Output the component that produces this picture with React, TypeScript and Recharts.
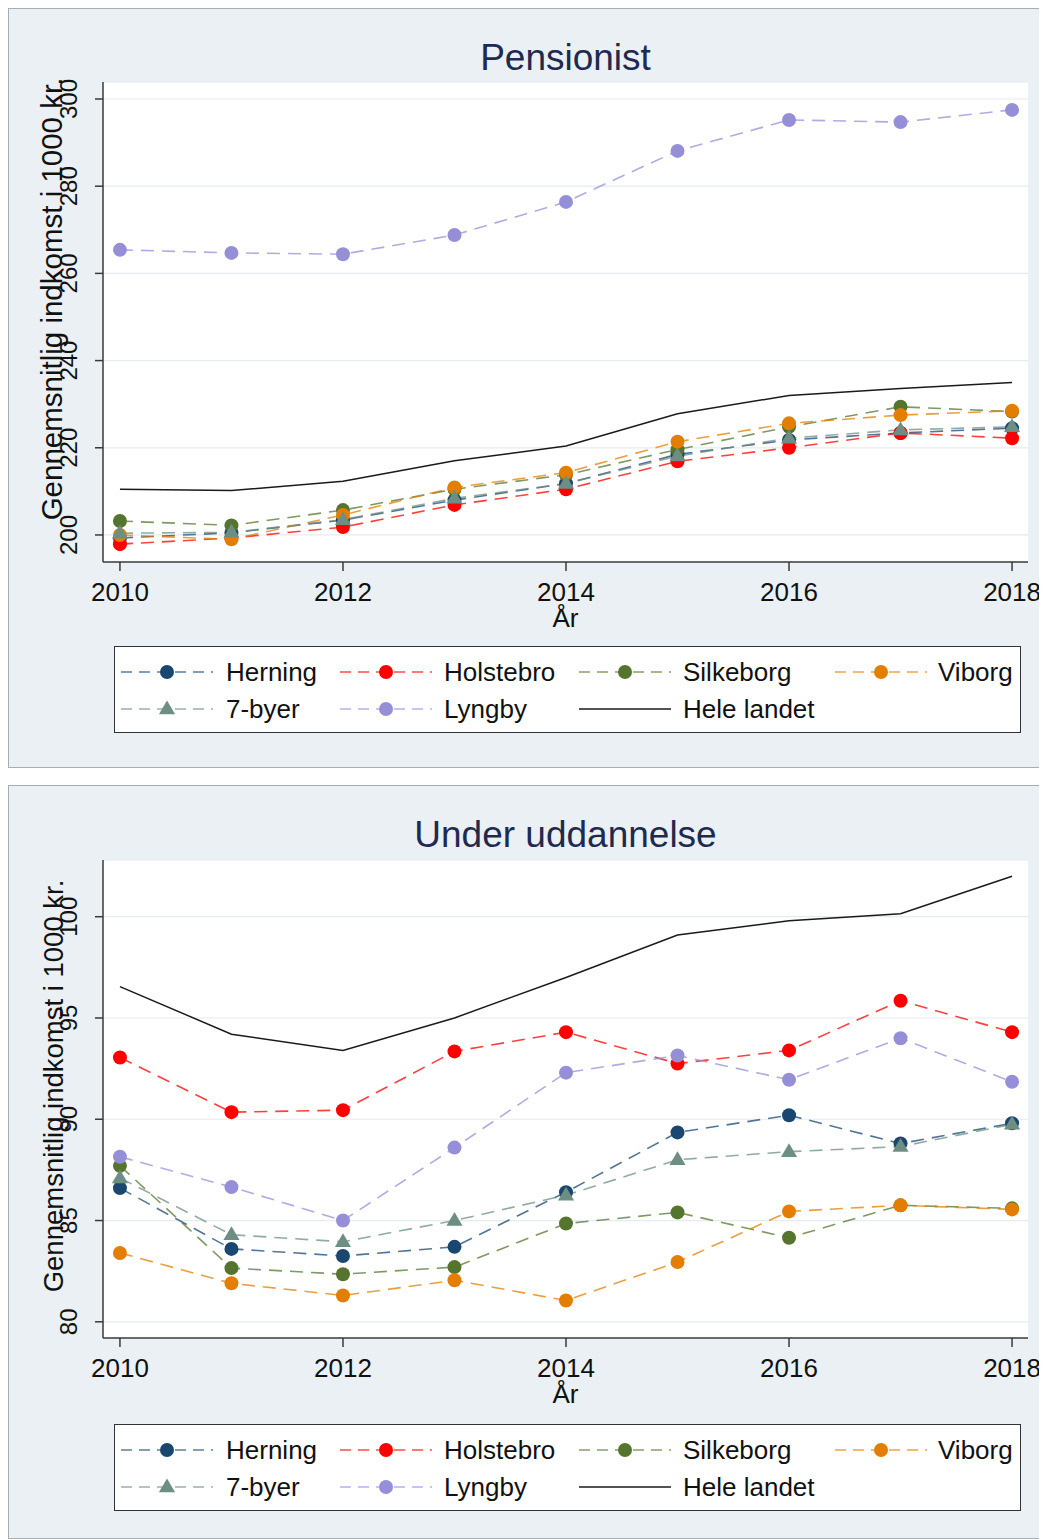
import React from 'react';
import { LineChart, Line, XAxis, YAxis, CartesianGrid, Label } from 'recharts';

const FONT = '"Liberation Sans", Arial, Helvetica, sans-serif';

const years = [2010, 2011, 2012, 2013, 2014, 2015, 2016, 2017, 2018];
const xTicks = [2010, 2012, 2014, 2016, 2018];

// Pensionist
const herningP = [199.3, 200.5, 203.4, 208.0, 211.8, 218.5, 221.8, 223.4, 224.5];
const holstebroP = [197.9, 199.3, 201.8, 206.9, 210.5, 216.9, 220.0, 223.4, 222.2];
const silkeborgP = [203.2, 202.2, 205.7, 210.5, 213.8, 219.6, 224.8, 229.4, 228.3];
const viborgP = [200.0, 199.0, 204.6, 210.9, 214.3, 221.4, 225.6, 227.5, 228.5];
const byer7P = [200.4, 200.6, 203.5, 208.4, 211.8, 218.1, 222.2, 224.1, 224.8];
const lyngbyP = [265.4, 264.7, 264.4, 268.8, 276.4, 288.1, 295.2, 294.7, 297.5];
const heleP = [210.5, 210.2, 212.3, 217.0, 220.4, 227.8, 232.0, 233.6, 235.0];
const yTicksP = [200, 220, 240, 260, 280, 300];

// Under uddannelse
const herningU = [86.6, 83.6, 83.25, 83.7, 86.4, 89.35, 90.2, 88.8, 89.8];
const holstebroU = [93.05, 90.35, 90.45, 93.35, 94.3, 92.75, 93.4, 95.85, 94.3];
const silkeborgU = [87.7, 82.65, 82.35, 82.7, 84.85, 85.4, 84.15, 85.75, 85.6];
const viborgU = [83.4, 81.9, 81.3, 82.05, 81.05, 82.95, 85.45, 85.75, 85.55];
const byer7U = [87.1, 84.3, 83.95, 85.0, 86.25, 88.0, 88.4, 88.65, 89.75];
const lyngbyU = [88.15, 86.65, 85.0, 88.6, 92.3, 93.15, 91.95, 94.0, 91.85];
const heleU = [96.55, 94.2, 93.4, 95.0, 97.0, 99.1, 99.8, 100.15, 102.0];
const yTicksU = [80, 85, 90, 95, 100];

const yLabel = 'Gennemsnitlig indkomst i 1000 kr.';
const xLabel = 'År';

type Series = { key: string; name: string; color: string; marker: 'circle' | 'triangle' | 'none'; dashed: boolean };

const SERIES: Series[] = [
  { key: 'herning', name: 'Herning', color: '#1a476f', marker: 'circle', dashed: true },
  { key: 'holstebro', name: 'Holstebro', color: '#ff0000', marker: 'circle', dashed: true },
  { key: 'silkeborg', name: 'Silkeborg', color: '#55752f', marker: 'circle', dashed: true },
  { key: 'viborg', name: 'Viborg', color: '#e37e00', marker: 'circle', dashed: true },
  { key: 'byer7', name: '7-byer', color: '#6e8e84', marker: 'triangle', dashed: true },
  { key: 'lyngby', name: 'Lyngby', color: '#958fd8', marker: 'circle', dashed: true },
  { key: 'hele', name: 'Hele landet', color: '#1a1a1a', marker: 'none', dashed: false },
];

function buildRows(values: number[][]) {
  return years.map((y, i) => {
    const r: any = { year: y };
    SERIES.forEach((s, j) => {
      r[s.key] = values[j][i];
    });
    return r;
  });
}

const rowsP = buildRows([herningP, holstebroP, silkeborgP, viborgP, byer7P, lyngbyP, heleP]);
const rowsU = buildRows([herningU, holstebroU, silkeborgU, viborgU, byer7U, lyngbyU, heleU]);

const makeDot = (s: Series) => (props: any) => {
  const { cx, cy, index } = props;
  const k = `${s.key}-${index}`;
  if (cx == null || cy == null) return <g key={k} />;
  if (s.marker === 'triangle') {
    const r = 8.5;
    return (
      <polygon
        key={k}
        points={`${cx},${cy - r} ${cx - r * 0.95},${cy + r * 0.62} ${cx + r * 0.95},${cy + r * 0.62}`}
        fill={s.color}
      />
    );
  }
  return <circle key={k} cx={cx} cy={cy} r={7} fill={s.color} />;
};

const YTick = (props: any) => {
  const { x, y, payload } = props;
  return (
    <text
      x={x}
      y={y}
      transform={`rotate(-90 ${x} ${y})`}
      textAnchor="middle"
      fontSize={24}
      fill="#111"
      fontFamily={FONT}
    >
      {payload.value}
    </text>
  );
};

const LegendSymbol = ({ s }: { s: Series }) => (
  <svg width={96} height={20} style={{ position: 'absolute', left: -48, top: -10, overflow: 'visible' }}>
    <line
      x1={2}
      y1={10}
      x2={94}
      y2={10}
      stroke={s.color}
      strokeOpacity={s.dashed ? 0.7 : 1}
      strokeWidth={1.6}
      strokeDasharray={s.dashed ? '11 7' : undefined}
    />
    {s.marker === 'circle' && <circle cx={48} cy={10} r={7} fill={s.color} />}
    {s.marker === 'triangle' && (
      <polygon points={`48,1.5 39.9,15.3 56.1,15.3`} fill={s.color} />
    )}
  </svg>
);

const LegendBox = ({ top }: { top: number }) => {
  const colCenter = [53, 272, 511, 767];
  const colText = [112, 330, 569, 824];
  const rowCenter = [26, 63];
  return (
    <div
      style={{
        position: 'absolute',
        left: 105,
        top,
        width: 907,
        height: 87,
        background: '#fff',
        border: '1.5px solid #333',
        boxSizing: 'border-box',
      }}
    >
      {SERIES.map((s, i) => {
        const row = Math.floor(i / 4);
        const col = i % 4;
        return (
          <React.Fragment key={s.key}>
            <div style={{ position: 'absolute', left: colCenter[col] - 1, top: rowCenter[row] - 1 }}>
              <LegendSymbol s={s} />
            </div>
            <div
              style={{
                position: 'absolute',
                left: colText[col] - 1,
                top: rowCenter[row] - 1 - 15,
                height: 30,
                lineHeight: '30px',
                fontSize: 26,
                fontFamily: FONT,
                color: '#111',
                whiteSpace: 'nowrap',
              }}
            >
              {s.name}
            </div>
          </React.Fragment>
        );
      })}
    </div>
  );
};

type PanelProps = {
  title: string;
  rows: any[];
  yDomain: [number, number];
  yTicks: number[];
  height: number;
  marginTop: number;
  chartTop: number;
  chartBottomMargin: number;
  legendTop: number;
  yLabelSize: number;
  yLabelCenter: number;
  yLabelX: number;
};

const Panel = ({
  title,
  rows,
  yDomain,
  yTicks,
  height,
  marginTop,
  chartTop,
  chartBottomMargin,
  legendTop,
  yLabelSize,
  yLabelCenter,
  yLabelX,
}: PanelProps) => (
  <div
    style={{
      position: 'relative',
      width: 1039,
      height,
      marginTop,
      background: '#eaf0f3',
      border: '1px solid #a8adb1',
      borderRight: 'none',
      boxSizing: 'border-box',
    }}
  >
    <div
      style={{
        position: 'absolute',
        left: 94,
        top: 30,
        width: 925,
        textAlign: 'center',
        fontSize: 37,
        lineHeight: '37px',
        fontFamily: FONT,
        color: '#1e2a4e',
      }}
    >
      {title}
    </div>
    <div style={{ position: 'absolute', left: -1, top: -1 }}>
      <LineChart
        width={1039}
        height={height}
        data={rows}
        margin={{ top: chartTop, right: 19, bottom: chartBottomMargin, left: 0 }}
      >
        <CartesianGrid vertical={false} stroke="#e4ecef" strokeWidth={1.2} fill="#ffffff" fillOpacity={1} />
        <XAxis
          dataKey="year"
          type="number"
          domain={[2009.848, 2018.143]}
          allowDataOverflow
          ticks={xTicks}
          height={60}
          tickSize={9}
          tickMargin={12}
          axisLine={{ stroke: '#3a3a3a', strokeWidth: 1.5 }}
          tickLine={{ stroke: '#3a3a3a', strokeWidth: 1.5 }}
          tick={{ fontSize: 26, fill: '#111', fontFamily: FONT }}
          interval={0}
        >
          <Label
            content={(p: any) => {
              const vb = p.viewBox || {};
              const cx = vb.x + vb.width / 2;
              return (
                <text x={cx} y={vb.y + 65} textAnchor="middle" fontSize={26} fill="#111" fontFamily={FONT}>
                  {xLabel}
                </text>
              );
            }}
          />
        </XAxis>
        <YAxis
          type="number"
          domain={yDomain}
          allowDataOverflow
          ticks={yTicks}
          width={95}
          tickSize={8}
          tickMargin={18}
          axisLine={{ stroke: '#3a3a3a', strokeWidth: 1.5 }}
          tickLine={{ stroke: '#3a3a3a', strokeWidth: 1.5 }}
          tick={<YTick />}
          interval={0}
        >
          <Label
            content={() => {
              const cy = yLabelCenter;
              const x = yLabelX;
              return (
                <text
                  x={x}
                  y={cy}
                  transform={`rotate(-90 ${x} ${cy})`}
                  textAnchor="middle"
                  fontSize={yLabelSize}
                  fill="#111"
                  fontFamily={FONT}
                >
                  {yLabel}
                </text>
              );
            }}
          />
        </YAxis>
        {SERIES.map((s) => (
          <Line
            key={s.key}
            dataKey={s.key}
            name={s.name}
            type="linear"
            stroke={s.color}
            strokeOpacity={s.dashed ? 0.75 : 1}
            strokeWidth={s.dashed ? 1.6 : 1.5}
            strokeDasharray={s.dashed ? '13 8' : undefined}
            dot={s.marker === 'none' ? false : makeDot(s)}
            activeDot={false}
            isAnimationActive={false}
          />
        ))}
      </LineChart>
    </div>
    <LegendBox top={legendTop} />
  </div>
);

export default function App() {
  return (
    <div style={{ width: 1039 }}>
      <Panel
        title="Pensionist"
        rows={rowsP}
        yDomain={[193.8, 303.9]}
        yTicks={yTicksP}
        height={760}
        marginTop={0}
        chartTop={74}
        chartBottomMargin={146}
        legendTop={637}
        yLabelSize={29.5}
        yLabelCenter={291}
        yLabelX={54}
      />
      <Panel
        title="Under uddannelse"
        rows={rowsU}
        yDomain={[79.2, 102.8]}
        yTicks={yTicksU}
        height={754}
        marginTop={17}
        chartTop={75}
        chartBottomMargin={141}
        legendTop={638}
        yLabelSize={27.5}
        yLabelCenter={301}
        yLabelX={55}
      />
    </div>
  );
}
